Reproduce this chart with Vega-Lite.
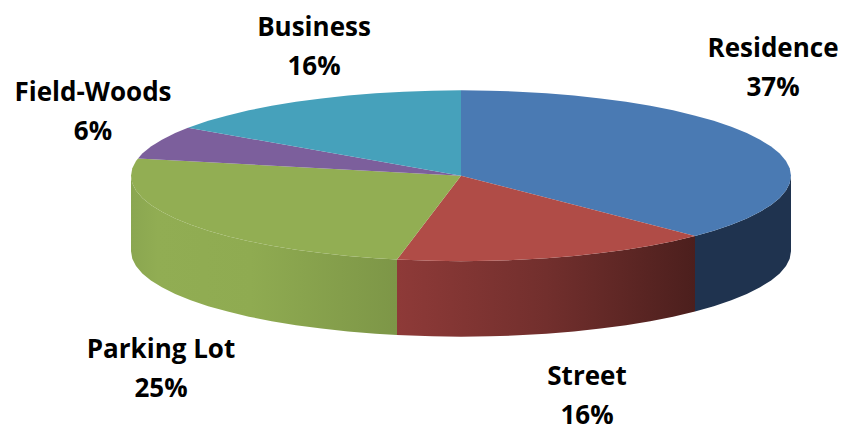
{
"$schema":"https://vega.github.io/schema/vega-lite/v6.json",
"width":841,"height":429,
"autosize":{"type":"fit","contains":"padding"},
"padding":0,
"background":"#ffffff",
"view":{"stroke":null},
"datasets":{
"labels":[
{"slice":"Residence","share":0.37,"x":773,"y":49},
{"slice":"Street","share":0.16,"x":587,"y":380},
{"slice":"Parking Lot","share":0.25,"x":161,"y":352},
{"slice":"Field-Woods","share":0.06,"x":93,"y":94},
{"slice":"Business","share":0.16,"x":314,"y":28}
],
"shape":[
{"part":"sideBlue","i":0,"x":791,"y":177},{"part":"sideBlue","i":1,"x":789.7,"y":184.5},{"part":"sideBlue","i":2,"x":786,"y":191.9},{"part":"sideBlue","i":3,"x":779.7,"y":199.3},{"part":"sideBlue","i":4,"x":771.1,"y":206.4},{"part":"sideBlue","i":5,"x":760.1,"y":213.3},{"part":"sideBlue","i":6,"x":746.8,"y":220},{"part":"sideBlue","i":7,"x":731.3,"y":226.3},{"part":"sideBlue","i":8,"x":713.8,"y":232.3},{"part":"sideBlue","i":9,"x":695,"y":237.6},
{"part":"sideBlue","i":10,"x":695,"y":313.6},{"part":"sideBlue","i":11,"x":713.8,"y":308.3},{"part":"sideBlue","i":12,"x":731.3,"y":302.3},{"part":"sideBlue","i":13,"x":746.8,"y":296},{"part":"sideBlue","i":14,"x":760.1,"y":289.3},{"part":"sideBlue","i":15,"x":771.1,"y":282.4},{"part":"sideBlue","i":16,"x":779.7,"y":275.3},{"part":"sideBlue","i":17,"x":786,"y":267.9},{"part":"sideBlue","i":18,"x":789.7,"y":260.5},{"part":"sideBlue","i":19,"x":791,"y":253},
{"part":"sideRed","i":0,"x":695,"y":237.6},{"part":"sideRed","i":1,"x":673.1,"y":242.9},{"part":"sideRed","i":2,"x":650.3,"y":247.5},{"part":"sideRed","i":3,"x":626,"y":251.5},{"part":"sideRed","i":4,"x":600.5,"y":254.9},{"part":"sideRed","i":5,"x":573.9,"y":257.8},{"part":"sideRed","i":6,"x":546.4,"y":260.1},{"part":"sideRed","i":7,"x":518.3,"y":261.7},{"part":"sideRed","i":8,"x":489.8,"y":262.7},{"part":"sideRed","i":9,"x":461,"y":263},{"part":"sideRed","i":10,"x":432.2,"y":262.7},{"part":"sideRed","i":11,"x":403.7,"y":261.7},{"part":"sideRed","i":12,"x":397,"y":261.4},
{"part":"sideRed","i":13,"x":397,"y":337.4},{"part":"sideRed","i":14,"x":403.7,"y":337.7},{"part":"sideRed","i":15,"x":432.2,"y":338.7},{"part":"sideRed","i":16,"x":461,"y":339},{"part":"sideRed","i":17,"x":489.8,"y":338.7},{"part":"sideRed","i":18,"x":518.3,"y":337.7},{"part":"sideRed","i":19,"x":546.4,"y":336.1},{"part":"sideRed","i":20,"x":573.9,"y":333.8},{"part":"sideRed","i":21,"x":600.5,"y":330.9},{"part":"sideRed","i":22,"x":626,"y":327.5},{"part":"sideRed","i":23,"x":650.3,"y":323.5},{"part":"sideRed","i":24,"x":673.1,"y":318.9},{"part":"sideRed","i":25,"x":695,"y":313.6},
{"part":"sideGreen","i":0,"x":397,"y":261.4},{"part":"sideGreen","i":1,"x":375.6,"y":260.1},{"part":"sideGreen","i":2,"x":348.1,"y":257.8},{"part":"sideGreen","i":3,"x":321.5,"y":254.9},{"part":"sideGreen","i":4,"x":296,"y":251.5},{"part":"sideGreen","i":5,"x":271.7,"y":247.5},{"part":"sideGreen","i":6,"x":248.9,"y":242.9},{"part":"sideGreen","i":7,"x":227.7,"y":237.8},{"part":"sideGreen","i":8,"x":208.2,"y":232.3},{"part":"sideGreen","i":9,"x":190.7,"y":226.3},{"part":"sideGreen","i":10,"x":175.2,"y":220},{"part":"sideGreen","i":11,"x":161.9,"y":213.3},{"part":"sideGreen","i":12,"x":150.9,"y":206.4},{"part":"sideGreen","i":13,"x":142.3,"y":199.3},{"part":"sideGreen","i":14,"x":136,"y":191.9},{"part":"sideGreen","i":15,"x":132.3,"y":184.5},{"part":"sideGreen","i":16,"x":131,"y":177},
{"part":"sideGreen","i":17,"x":131,"y":253},{"part":"sideGreen","i":18,"x":132.3,"y":260.5},{"part":"sideGreen","i":19,"x":136,"y":267.9},{"part":"sideGreen","i":20,"x":142.3,"y":275.3},{"part":"sideGreen","i":21,"x":150.9,"y":282.4},{"part":"sideGreen","i":22,"x":161.9,"y":289.3},{"part":"sideGreen","i":23,"x":175.2,"y":296},{"part":"sideGreen","i":24,"x":190.7,"y":302.3},{"part":"sideGreen","i":25,"x":208.2,"y":308.3},{"part":"sideGreen","i":26,"x":227.7,"y":313.8},{"part":"sideGreen","i":27,"x":248.9,"y":318.9},{"part":"sideGreen","i":28,"x":271.7,"y":323.5},{"part":"sideGreen","i":29,"x":296,"y":327.5},{"part":"sideGreen","i":30,"x":321.5,"y":330.9},{"part":"sideGreen","i":31,"x":348.1,"y":333.8},{"part":"sideGreen","i":32,"x":375.6,"y":336.1},{"part":"sideGreen","i":33,"x":397,"y":337.4},
{"part":"Residence","i":0,"x":461,"y":177},{"part":"Residence","i":1,"x":461,"y":91},{"part":"Residence","i":2,"x":489.8,"y":91.3},{"part":"Residence","i":3,"x":518.3,"y":92.3},{"part":"Residence","i":4,"x":546.4,"y":93.9},{"part":"Residence","i":5,"x":573.9,"y":96.2},{"part":"Residence","i":6,"x":600.5,"y":99.1},{"part":"Residence","i":7,"x":626,"y":102.5},{"part":"Residence","i":8,"x":650.3,"y":106.5},{"part":"Residence","i":9,"x":673.1,"y":111.1},{"part":"Residence","i":10,"x":694.3,"y":116.2},{"part":"Residence","i":11,"x":713.8,"y":121.7},{"part":"Residence","i":12,"x":731.3,"y":127.7},{"part":"Residence","i":13,"x":746.8,"y":134},{"part":"Residence","i":14,"x":760.1,"y":140.7},{"part":"Residence","i":15,"x":771.1,"y":147.6},{"part":"Residence","i":16,"x":779.7,"y":154.7},{"part":"Residence","i":17,"x":786,"y":162.1},{"part":"Residence","i":18,"x":789.7,"y":169.5},{"part":"Residence","i":19,"x":791,"y":177},{"part":"Residence","i":20,"x":789.7,"y":184.5},{"part":"Residence","i":21,"x":786,"y":191.9},{"part":"Residence","i":22,"x":779.7,"y":199.3},{"part":"Residence","i":23,"x":771.1,"y":206.4},{"part":"Residence","i":24,"x":760.1,"y":213.3},{"part":"Residence","i":25,"x":746.8,"y":220},{"part":"Residence","i":26,"x":731.3,"y":226.3},{"part":"Residence","i":27,"x":713.8,"y":232.3},{"part":"Residence","i":28,"x":695,"y":237.6},
{"part":"Street","i":0,"x":461,"y":177},{"part":"Street","i":1,"x":695,"y":237.6},{"part":"Street","i":2,"x":673.1,"y":242.9},{"part":"Street","i":3,"x":650.3,"y":247.5},{"part":"Street","i":4,"x":626,"y":251.5},{"part":"Street","i":5,"x":600.5,"y":254.9},{"part":"Street","i":6,"x":573.9,"y":257.8},{"part":"Street","i":7,"x":546.4,"y":260.1},{"part":"Street","i":8,"x":518.3,"y":261.7},{"part":"Street","i":9,"x":489.8,"y":262.7},{"part":"Street","i":10,"x":461,"y":263},{"part":"Street","i":11,"x":432.2,"y":262.7},{"part":"Street","i":12,"x":403.7,"y":261.7},{"part":"Street","i":13,"x":397,"y":261.4},
{"part":"Parking Lot","i":0,"x":461,"y":177},{"part":"Parking Lot","i":1,"x":397,"y":261.4},{"part":"Parking Lot","i":2,"x":375.6,"y":260.1},{"part":"Parking Lot","i":3,"x":348.1,"y":257.8},{"part":"Parking Lot","i":4,"x":321.5,"y":254.9},{"part":"Parking Lot","i":5,"x":296,"y":251.5},{"part":"Parking Lot","i":6,"x":271.7,"y":247.5},{"part":"Parking Lot","i":7,"x":248.9,"y":242.9},{"part":"Parking Lot","i":8,"x":227.7,"y":237.8},{"part":"Parking Lot","i":9,"x":208.2,"y":232.3},{"part":"Parking Lot","i":10,"x":190.7,"y":226.3},{"part":"Parking Lot","i":11,"x":175.2,"y":220},{"part":"Parking Lot","i":12,"x":161.9,"y":213.3},{"part":"Parking Lot","i":13,"x":150.9,"y":206.4},{"part":"Parking Lot","i":14,"x":142.3,"y":199.3},{"part":"Parking Lot","i":15,"x":136,"y":191.9},{"part":"Parking Lot","i":16,"x":132.3,"y":184.5},{"part":"Parking Lot","i":17,"x":131,"y":177},{"part":"Parking Lot","i":18,"x":132.3,"y":169.5},{"part":"Parking Lot","i":19,"x":136,"y":162.1},{"part":"Parking Lot","i":20,"x":138,"y":159.5},
{"part":"Field-Woods","i":0,"x":461,"y":177},{"part":"Field-Woods","i":1,"x":138,"y":159.5},{"part":"Field-Woods","i":2,"x":142.3,"y":154.7},{"part":"Field-Woods","i":3,"x":150.9,"y":147.6},{"part":"Field-Woods","i":4,"x":161.9,"y":140.7},{"part":"Field-Woods","i":5,"x":175.2,"y":134},{"part":"Field-Woods","i":6,"x":188,"y":128.6},
{"part":"Business","i":0,"x":461,"y":177},{"part":"Business","i":1,"x":188,"y":128.6},{"part":"Business","i":2,"x":208.2,"y":121.7},{"part":"Business","i":3,"x":227.7,"y":116.2},{"part":"Business","i":4,"x":248.9,"y":111.1},{"part":"Business","i":5,"x":271.7,"y":106.5},{"part":"Business","i":6,"x":296,"y":102.5},{"part":"Business","i":7,"x":321.5,"y":99.1},{"part":"Business","i":8,"x":348.1,"y":96.2},{"part":"Business","i":9,"x":375.6,"y":93.9},{"part":"Business","i":10,"x":403.7,"y":92.3},{"part":"Business","i":11,"x":432.2,"y":91.3},{"part":"Business","i":12,"x":461,"y":91}
]},
"encoding":{
"x":{"field":"x","type":"quantitative","scale":{"domain":[0,841],"nice":false,"zero":false},"axis":null},
"y":{"field":"y","type":"quantitative","scale":{"domain":[429,0],"nice":false,"zero":false},"axis":null}
},
"layer":[
{"data":{"name":"shape"},"transform":[{"filter":"datum.part==='sideBlue'"}],"mark":{"type":"line","fill":"#1f334f","stroke":null},"encoding":{"order":{"field":"i","type":"quantitative"}}},
{"data":{"name":"shape"},"transform":[{"filter":"datum.part==='sideRed'"}],"mark":{"type":"line","stroke":null,"fill":{"gradient":"linear","x1":0,"y1":0,"x2":1,"y2":0,"stops":[{"offset":0,"color":"#8e3a38"},{"offset":0.5,"color":"#722f2d"},{"offset":1,"color":"#4c1f1d"}]}},"encoding":{"order":{"field":"i","type":"quantitative"}}},
{"data":{"name":"shape"},"transform":[{"filter":"datum.part==='sideGreen'"}],"mark":{"type":"line","stroke":null,"fill":{"gradient":"linear","x1":0,"y1":0,"x2":1,"y2":0,"stops":[{"offset":0,"color":"#8aa650"},{"offset":0.1,"color":"#91ad53"},{"offset":0.45,"color":"#8fab51"},{"offset":1,"color":"#7d9647"}]}},"encoding":{"order":{"field":"i","type":"quantitative"}}},
{"data":{"name":"shape"},"transform":[{"filter":"datum.part==='Residence'"}],"mark":{"type":"line","fill":"#4a7ab3","stroke":null},"encoding":{"order":{"field":"i","type":"quantitative"}}},
{"data":{"name":"shape"},"transform":[{"filter":"datum.part==='Street'"}],"mark":{"type":"line","fill":"#b04c47","stroke":null},"encoding":{"order":{"field":"i","type":"quantitative"}}},
{"data":{"name":"shape"},"transform":[{"filter":"datum.part==='Parking Lot'"}],"mark":{"type":"line","fill":"#92ae53","stroke":null},"encoding":{"order":{"field":"i","type":"quantitative"}}},
{"data":{"name":"shape"},"transform":[{"filter":"datum.part==='Field-Woods'"}],"mark":{"type":"line","fill":"#7c5f9c","stroke":null},"encoding":{"order":{"field":"i","type":"quantitative"}}},
{"data":{"name":"shape"},"transform":[{"filter":"datum.part==='Business'"}],"mark":{"type":"line","fill":"#46a1bb","stroke":null},"encoding":{"order":{"field":"i","type":"quantitative"}}},
{"data":{"name":"labels"},"mark":{"type":"text","font":"Open Sans","fontWeight":"bold","fontSize":26,"color":"#000000","align":"center","baseline":"middle"},"encoding":{"text":{"field":"slice","type":"nominal"}}},
{"data":{"name":"labels"},"mark":{"type":"text","font":"Open Sans","fontWeight":"bold","fontSize":26,"color":"#000000","align":"center","baseline":"middle","dy":39},"encoding":{"text":{"field":"share","type":"quantitative","format":".0%"}}}
]
}
